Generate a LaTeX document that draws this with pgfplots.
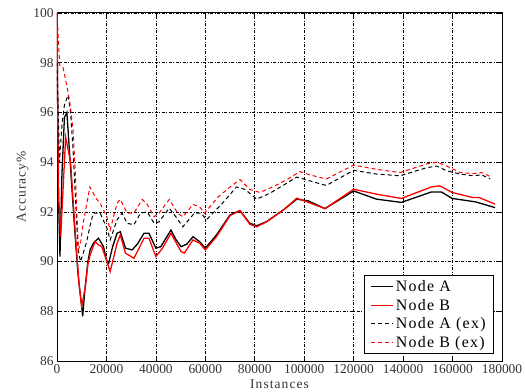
\documentclass[border=0pt]{standalone}
\usepackage{pgfplots}
\pgfplotsset{compat=1.18}
\usepackage{fontspec}
\setmainfont{Liberation Serif}
\newfontfamily\spaced[LetterSpace=8]{Liberation Serif}
\begin{document}
\begin{tikzpicture}
\begin{axis}[
  scale only axis, width=445bp, height=348bp,
  xmin=0, xmax=180000, ymin=86, ymax=100,
  xtick={0,20000,40000,60000,80000,100000,120000,140000,160000,180000},
  ytick={86,88,90,92,94,96,98,100},
  scaled x ticks=false,
  /pgf/number format/assume math mode=true,
  xticklabel style={/pgf/number format/.cd, fixed, set thousands separator={}},
  yticklabel style={/pgf/number format/.cd, fixed, set thousands separator={}},
  grid=major,
  major grid style={black, line width=0.7pt, dash pattern=on 3pt off 1.5pt on 1pt off 1.5pt},
  axis line style={black, line width=1pt},
  tick align=inside, major tick length=4bp, tick style={black, line width=0.6pt},
  ticklabel style={font=\fontsize{13.5}{15}\selectfont, text=black!80},
  xlabel={Instances}, ylabel={Accuracy\%},
  label style={font=\spaced\fontsize{13.5}{15}\selectfont, text=black!80},
  xlabel style={yshift=1bp},
  ylabel style={yshift=-2bp},
  legend cell align=left,
  legend style={at={(0.982,0.02)}, anchor=south east, thick,
    font=\spaced\fontsize{16}{17}\selectfont, row sep=2pt, inner xsep=6pt, inner ysep=3pt},
  legend image code/.code={\draw[mark repeat=2,mark phase=2,#1] plot coordinates {(0bp,0bp) (11bp,0bp) (22bp,0bp)};},
]
\addplot[red, line width=1.3pt, forget plot] coordinates {(0,100)};
\addplot[black, line width=1.3pt] coordinates {
(0,100)(500,93)(1200,90.2)(2000,93.5)(3000,95.8)(4000,96.0)(5000,94.5)(6000,93)(7000,91.5)(8500,89.5)(10400,87.8)(11300,88.9)(12500,90.0)(13400,90.47)(14700,90.74)(16800,90.94)(18800,90.6)(20000,90.07)(20900,89.93)(22500,90.6)(24300,91.14)(25600,91.2)(27700,90.54)(30400,90.47)(32500,90.7)(35200,91.14)(37200,91.14)(40000,90.54)(42000,90.6)(46100,91.27)(48000,90.9)(50200,90.6)(52500,90.7)(55000,91.0)(57700,90.8)(60000,90.54)(64500,91.07)(70000,91.88)(74000,92.05)(78000,91.54)(80800,91.44)(84800,91.61)(91600,92.08)(97000,92.51)(101700,92.44)(108400,92.13)(120000,92.84)(129300,92.51)(139300,92.38)(151400,92.8)(155500,92.8)(159800,92.54)(169400,92.4)(177200,92.17)
};
\addlegendentry{Node A}
\addplot[red, line width=1.3pt] coordinates {
(0,100)(300,96)(700,92.5)(1500,91)(2500,93)(3500,95)(4500,94.5)(5500,94)(6500,92.5)(7500,91)(9000,89)(10000,88.2)(11500,89)(12500,89.9)(13400,90.27)(15400,90.8)(16800,90.67)(18100,90.6)(19500,90.2)(21500,89.6)(23000,90.2)(24300,90.74)(25600,91.07)(27700,90.34)(31100,90.13)(33000,90.5)(35200,90.94)(37200,90.94)(40000,90.2)(42700,90.54)(46100,91.14)(48500,90.7)(50200,90.4)(51500,90.34)(55000,90.87)(57700,90.74)(60000,90.47)(64500,91.0)(70000,91.85)(74000,92.05)(78000,91.5)(80800,91.4)(84800,91.6)(91600,92.08)(97000,92.55)(101700,92.38)(108400,92.13)(120000,92.91)(129300,92.71)(139300,92.54)(151400,93.0)(154800,93.05)(159800,92.78)(168000,92.58)(170700,92.58)(177200,92.31)
};
\addlegendentry{Node B}
\addplot[black, line width=1pt, dash pattern=on 4bp off 3bp] coordinates {
(0,98)(1000,94)(2000,95.5)(3000,96.3)(4500,96.7)(5500,96.0)(6500,94.5)(7500,92.5)(8500,90.5)(9500,90.0)(10500,90.3)(12000,90.8)(13500,91.5)(14700,91.95)(17450,91.95)(20200,91.34)(21500,90.87)(24300,91.68)(26300,91.95)(28400,91.54)(31100,91.48)(33800,91.95)(36500,92.0)(39300,91.54)(41300,91.6)(45400,92.15)(48100,91.8)(50900,91.4)(55600,91.95)(58300,91.95)(60400,91.68)(66500,92.3)(72600,93.0)(76100,92.9)(80800,92.51)(86100,92.75)(92900,93.15)(97000,93.4)(102200,93.25)(108900,93.06)(120000,93.67)(129400,93.52)(138800,93.45)(149600,93.78)(153600,93.84)(157700,93.65)(163100,93.52)(168500,93.45)(171800,93.49)(175200,93.32)
};
\addlegendentry{Node A (ex)}
\addplot[red, line width=1pt, dash pattern=on 4bp off 3bp] coordinates {
(0,100)(1100,97.9)(2450,97.8)(3100,97.5)(4500,96.8)(5200,96.4)(6500,95.3)(7300,93.8)(8000,92.0)(8700,90.5)(9500,90.7)(10500,91.5)(12000,92.3)(13300,93.0)(16100,92.5)(17450,92.35)(20200,91.8)(21500,91.27)(24300,92.35)(25600,92.5)(28400,91.95)(31100,91.95)(34500,92.5)(36500,92.3)(39300,91.8)(41300,91.95)(45400,92.5)(48800,91.95)(50900,91.8)(55000,92.3)(57700,92.2)(59700,91.95)(65200,92.6)(70000,93.0)(74000,93.3)(78000,92.9)(82100,92.78)(87600,93.02)(92900,93.29)(98200,93.62)(102200,93.49)(108900,93.32)(120000,93.88)(129400,93.71)(138800,93.58)(149600,93.93)(153600,94.0)(157700,93.84)(163100,93.58)(168500,93.54)(171800,93.58)(175900,93.39)
};
\addlegendentry{Node B (ex)}
\end{axis}
\pgfresetboundingbox
\path ([shift={(-57bp,-31bp)}]current axis.south west) rectangle ([shift={(23bp,13bp)}]current axis.north east);
\end{tikzpicture}
\end{document}
